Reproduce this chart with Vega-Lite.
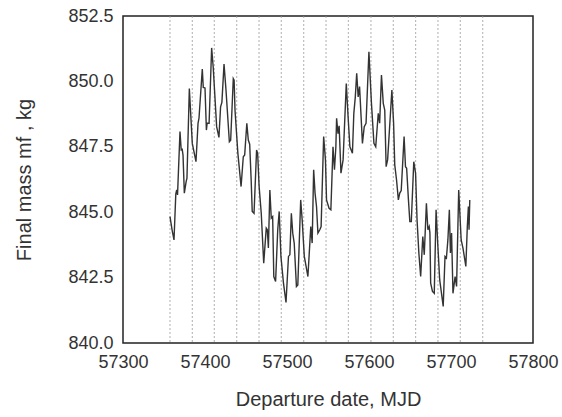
{
  "$schema": "https://vega.github.io/schema/vega-lite/v6.json",
  "width": 410,
  "height": 327,
  "autosize": {"type": "none"},
  "padding": {"left": 123, "top": 16, "right": 29, "bottom": 74},
  "background": "white",
  "config": {
    "view": {"stroke": "#222", "strokeWidth": 1.5},
    "font": "Liberation Sans"
  },
  "datasets": {
    "grid": [
      {"mjd": 57357.3}, {"mjd": 57384.5}, {"mjd": 57411.3}, {"mjd": 57438.7}, {"mjd": 57465.9},
      {"mjd": 57493.0}, {"mjd": 57520.4}, {"mjd": 57547.6}, {"mjd": 57574.8}, {"mjd": 57602.4},
      {"mjd": 57629.6}, {"mjd": 57656.9}, {"mjd": 57684.1}, {"mjd": 57711.3}, {"mjd": 57738.7}
    ],
    "curve": [
      {"mjd": 57357.3, "m": 844.83}, {"mjd": 57360.0, "m": 844.3}, {"mjd": 57362.2, "m": 843.94},
      {"mjd": 57364.4, "m": 845.7}, {"mjd": 57365.5, "m": 845.85}, {"mjd": 57366.5, "m": 845.66},
      {"mjd": 57369.5, "m": 848.08}, {"mjd": 57371.0, "m": 847.38}, {"mjd": 57372.2, "m": 847.4},
      {"mjd": 57373.2, "m": 847.18}, {"mjd": 57374.8, "m": 845.73}, {"mjd": 57377.0, "m": 846.17},
      {"mjd": 57378.0, "m": 846.3}, {"mjd": 57380.9, "m": 849.73}, {"mjd": 57384.5, "m": 847.63},
      {"mjd": 57389.0, "m": 846.93}, {"mjd": 57391.5, "m": 848.4}, {"mjd": 57392.7, "m": 848.6},
      {"mjd": 57396.7, "m": 850.47}, {"mjd": 57397.9, "m": 849.77}, {"mjd": 57400.0, "m": 849.75},
      {"mjd": 57401.7, "m": 848.14}, {"mjd": 57402.6, "m": 848.4}, {"mjd": 57405.0, "m": 848.4},
      {"mjd": 57408.1, "m": 851.28}, {"mjd": 57410.0, "m": 850.55}, {"mjd": 57414.2, "m": 848.27},
      {"mjd": 57417.0, "m": 847.86}, {"mjd": 57419.0, "m": 849.03}, {"mjd": 57420.6, "m": 849.2},
      {"mjd": 57423.2, "m": 850.66}, {"mjd": 57425.6, "m": 849.67}, {"mjd": 57427.2, "m": 848.9},
      {"mjd": 57429.7, "m": 847.69}, {"mjd": 57431.3, "m": 847.75}, {"mjd": 57434.5, "m": 850.11},
      {"mjd": 57435.5, "m": 850.05}, {"mjd": 57436.6, "m": 848.9}, {"mjd": 57440.1, "m": 847.25},
      {"mjd": 57444.0, "m": 845.98}, {"mjd": 57446.7, "m": 847.12}, {"mjd": 57448.4, "m": 847.19},
      {"mjd": 57451.0, "m": 848.4}, {"mjd": 57452.8, "m": 847.76}, {"mjd": 57454.5, "m": 847.6},
      {"mjd": 57456.3, "m": 846.23}, {"mjd": 57457.6, "m": 845.03}, {"mjd": 57459.8, "m": 844.96},
      {"mjd": 57462.9, "m": 847.38}, {"mjd": 57464.2, "m": 847.25}, {"mjd": 57466.0, "m": 845.98},
      {"mjd": 57468.6, "m": 844.96}, {"mjd": 57471.6, "m": 843.05}, {"mjd": 57474.7, "m": 844.39},
      {"mjd": 57476.0, "m": 844.33}, {"mjd": 57477.3, "m": 843.63}, {"mjd": 57479.1, "m": 845.85},
      {"mjd": 57480.8, "m": 844.77}, {"mjd": 57482.5, "m": 844.83}, {"mjd": 57483.9, "m": 842.54},
      {"mjd": 57486.1, "m": 842.35}, {"mjd": 57488.7, "m": 844.33}, {"mjd": 57490.5, "m": 845.03},
      {"mjd": 57492.6, "m": 843.31}, {"mjd": 57495.7, "m": 842.29}, {"mjd": 57498.8, "m": 841.55},
      {"mjd": 57501.8, "m": 843.31}, {"mjd": 57503.5, "m": 843.37}, {"mjd": 57505.3, "m": 844.96},
      {"mjd": 57507.0, "m": 844.2}, {"mjd": 57508.8, "m": 843.82}, {"mjd": 57511.5, "m": 842.16},
      {"mjd": 57513.2, "m": 842.22}, {"mjd": 57516.7, "m": 845.47}, {"mjd": 57518.5, "m": 844.71},
      {"mjd": 57521.1, "m": 843.31}, {"mjd": 57525.5, "m": 842.54}, {"mjd": 57529.0, "m": 844.45},
      {"mjd": 57530.7, "m": 843.82}, {"mjd": 57532.5, "m": 846.62}, {"mjd": 57534.2, "m": 845.73},
      {"mjd": 57536.0, "m": 845.22}, {"mjd": 57537.7, "m": 844.2}, {"mjd": 57540.0, "m": 844.33},
      {"mjd": 57541.6, "m": 844.45}, {"mjd": 57544.7, "m": 847.89}, {"mjd": 57546.9, "m": 847.0},
      {"mjd": 57548.2, "m": 845.47}, {"mjd": 57551.3, "m": 845.15}, {"mjd": 57553.5, "m": 845.09},
      {"mjd": 57556.1, "m": 847.5}, {"mjd": 57557.9, "m": 846.62}, {"mjd": 57559.6, "m": 847.5},
      {"mjd": 57560.5, "m": 848.59}, {"mjd": 57562.2, "m": 848.0}, {"mjd": 57563.6, "m": 848.3},
      {"mjd": 57565.8, "m": 846.49}, {"mjd": 57568.4, "m": 847.0}, {"mjd": 57572.3, "m": 849.92},
      {"mjd": 57574.5, "m": 848.65}, {"mjd": 57576.7, "m": 847.5}, {"mjd": 57579.8, "m": 847.25},
      {"mjd": 57581.5, "m": 848.78}, {"mjd": 57583.3, "m": 849.41}, {"mjd": 57585.0, "m": 850.31},
      {"mjd": 57586.8, "m": 849.41}, {"mjd": 57588.5, "m": 849.8}, {"mjd": 57592.0, "m": 847.63},
      {"mjd": 57594.2, "m": 848.27}, {"mjd": 57596.4, "m": 848.4}, {"mjd": 57599.9, "m": 851.13},
      {"mjd": 57603.0, "m": 849.16}, {"mjd": 57606.0, "m": 847.63}, {"mjd": 57608.2, "m": 847.5},
      {"mjd": 57611.3, "m": 848.78}, {"mjd": 57613.0, "m": 848.4}, {"mjd": 57615.2, "m": 850.24},
      {"mjd": 57617.4, "m": 849.16}, {"mjd": 57619.2, "m": 848.9}, {"mjd": 57620.9, "m": 846.74},
      {"mjd": 57622.7, "m": 847.0}, {"mjd": 57627.9, "m": 849.67}, {"mjd": 57630.0, "m": 848.4},
      {"mjd": 57631.4, "m": 846.81}, {"mjd": 57633.6, "m": 846.23}, {"mjd": 57635.8, "m": 845.47},
      {"mjd": 57637.5, "m": 845.73}, {"mjd": 57639.3, "m": 845.83}, {"mjd": 57642.8, "m": 847.89},
      {"mjd": 57644.5, "m": 846.74}, {"mjd": 57645.9, "m": 846.68}, {"mjd": 57648.1, "m": 845.47},
      {"mjd": 57649.8, "m": 844.64}, {"mjd": 57651.6, "m": 844.64}, {"mjd": 57654.6, "m": 846.93},
      {"mjd": 57656.8, "m": 846.49}, {"mjd": 57658.6, "m": 844.71}, {"mjd": 57660.8, "m": 843.44},
      {"mjd": 57663.0, "m": 842.54}, {"mjd": 57665.6, "m": 844.07}, {"mjd": 57667.4, "m": 843.37},
      {"mjd": 57670.0, "m": 845.34}, {"mjd": 57671.8, "m": 844.33}, {"mjd": 57673.4, "m": 844.45},
      {"mjd": 57674.3, "m": 844.2}, {"mjd": 57675.2, "m": 842.29}, {"mjd": 57677.4, "m": 841.97},
      {"mjd": 57679.6, "m": 841.9}, {"mjd": 57681.8, "m": 845.09}, {"mjd": 57684.0, "m": 843.69},
      {"mjd": 57686.2, "m": 842.42}, {"mjd": 57690.5, "m": 841.4}, {"mjd": 57692.7, "m": 843.31},
      {"mjd": 57694.4, "m": 843.25}, {"mjd": 57696.2, "m": 843.94}, {"mjd": 57698.0, "m": 845.09},
      {"mjd": 57699.3, "m": 843.44}, {"mjd": 57700.7, "m": 844.2}, {"mjd": 57702.4, "m": 841.9},
      {"mjd": 57705.0, "m": 842.54}, {"mjd": 57706.8, "m": 842.16}, {"mjd": 57709.4, "m": 845.85},
      {"mjd": 57712.4, "m": 843.94}, {"mjd": 57714.6, "m": 843.63}, {"mjd": 57718.1, "m": 842.93},
      {"mjd": 57719.9, "m": 844.45}, {"mjd": 57721.2, "m": 845.22}, {"mjd": 57722.0, "m": 844.33},
      {"mjd": 57722.9, "m": 845.47}
    ]
  },
  "layer": [
    {
      "data": {"name": "grid"},
      "mark": {"type": "rule", "color": "#9a9a9a", "strokeWidth": 0.8, "strokeDash": [2, 2]},
      "encoding": {
        "x": {"field": "mjd", "type": "quantitative", "scale": {"domain": [57300, 57800], "nice": false, "zero": false}}
      }
    },
    {
      "data": {"name": "curve"},
      "mark": {"type": "line", "color": "#333333", "strokeWidth": 1.4},
      "encoding": {
        "x": {
          "field": "mjd", "type": "quantitative",
          "scale": {"domain": [57300, 57800], "nice": false, "zero": false},
          "axis": {
            "title": "Departure date, MJD",
            "values": [57300, 57400, 57500, 57600, 57700, 57800],
            "format": "d",
            "grid": false, "domain": false, "ticks": false,
            "labelFont": "Liberation Sans", "labelFontSize": 18, "labelColor": "#333",
            "labelPadding": 10, "labelFlush": false,
            "titleFont": "Liberation Sans", "titleFontSize": 20, "titleFontWeight": "normal",
            "titleColor": "#333", "titlePadding": 18
          }
        },
        "y": {
          "field": "m", "type": "quantitative",
          "scale": {"domain": [840, 852.5], "nice": false, "zero": false},
          "axis": {
            "title": "Final mass mf ,  kg",
            "values": [840, 842.5, 845, 847.5, 850, 852.5],
            "format": ".1f",
            "grid": false, "domain": false, "ticks": false,
            "labelFont": "Liberation Sans", "labelFontSize": 18, "labelColor": "#333",
            "labelPadding": 10, "labelFlush": false,
            "titleFont": "Liberation Sans", "titleFontSize": 20, "titleFontWeight": "normal",
            "titleColor": "#333", "titlePadding": 33
          }
        }
      }
    }
  ]
}
